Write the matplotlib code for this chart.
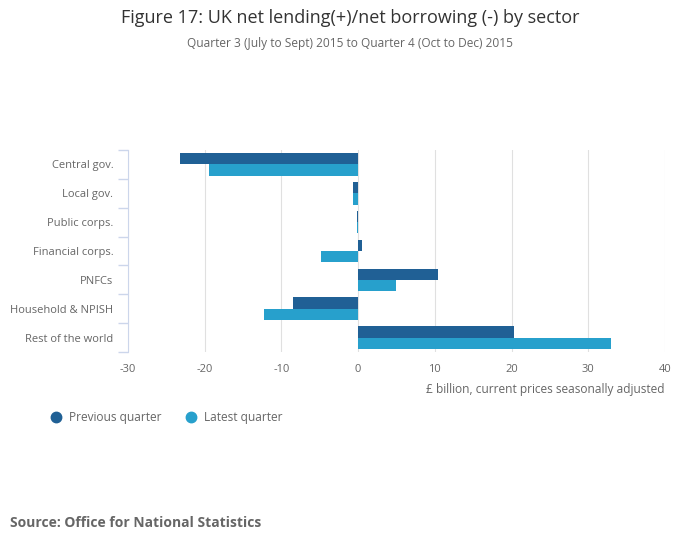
import matplotlib
matplotlib.use('Agg')
import matplotlib.pyplot as plt
from matplotlib.lines import Line2D
import numpy as np

plt.rcParams['font.family'] = ['Open Sans', 'DejaVu Sans']

sectors = ['Central gov.', 'Local gov.', 'Public corps.', 'Financial corps.',
           'PNFCs', 'Household & NPISH', 'Rest of the world']
previous_quarter = [-23.2, -0.7, -0.2, 0.5, 10.4, -8.5, 20.3]
latest_quarter = [-19.5, -0.7, -0.1, -4.9, 5.0, -12.3, 32.9]
x_ticks = [-30, -20, -10, 0, 10, 20, 30, 40]

dark = '#206095'
light = '#27a0cc'
grey = '#666666'

fig = plt.figure(figsize=[7, 5.49], dpi=100)
ax = fig.add_axes([128 / 700, 1 - 352 / 549, (665 - 128) / 700, (352 - 150) / 549])

y = np.arange(len(sectors))
h = 0.39
ax.barh(y - h / 2, previous_quarter, height=h, color=dark, zorder=3)
ax.barh(y + h / 2, latest_quarter, height=h, color=light, zorder=3)

ax.set_xlim(-30, 40)
ax.set_ylim(len(sectors) - 0.5, -0.5)
ax.set_xticks(x_ticks)
ax.set_xticklabels([str(t) for t in x_ticks])
ax.grid(axis='x', color='#e0e0e0', linewidth=0.8, zorder=0)

# category labels in the middle, tick marks on the boundaries
ax.set_yticks(y)
ax.set_yticklabels(sectors)
ax.set_yticks(np.arange(len(sectors) + 1) - 0.5, minor=True)
ax.tick_params(axis='y', which='major', length=0, pad=10.5, labelsize=8, labelcolor=grey)
ax.tick_params(axis='y', which='minor', length=7, color='#ccd6eb', width=1)
ax.tick_params(axis='x', length=0, pad=9, labelsize=8, labelcolor=grey)

for s in ['top', 'right', 'bottom']:
    ax.spines[s].set_visible(False)
ax.spines['left'].set_color('#ccd6eb')

fig.text(665 / 700, 1 - 389 / 549, '£ billion, current prices seasonally adjusted',
         ha='right', va='center', fontsize=8.6, color=grey)

fig.text(0.5, 1 - 18 / 549, 'Figure 17: UK net lending(+)/net borrowing (-) by sector',
         ha='center', va='center', fontsize=13, color='#333333')
fig.text(0.5, 1 - 44 / 549, 'Quarter 3 (July to Sept) 2015 to Quarter 4 (Oct to Dec) 2015',
         ha='center', va='center', fontsize=8.6, color=grey)

handles = [Line2D([], [], marker='o', linestyle='none', markersize=7.5, color=dark),
           Line2D([], [], marker='o', linestyle='none', markersize=7.5, color=light)]
fig.legend(handles, ['Previous quarter', 'Latest quarter'], loc='center left',
           bbox_to_anchor=(38 / 700, 1 - 418 / 549), ncol=2, frameon=False,
           fontsize=8.6, labelcolor=grey, handletextpad=0.5, columnspacing=1.85,
           handlelength=1.2)

fig.text(10 / 700, 1 - 523 / 549, 'Source: Office for National Statistics',
         ha='left', va='center', fontsize=10, fontweight='bold', color=grey)

fig.savefig('out.png', dpi=100)
